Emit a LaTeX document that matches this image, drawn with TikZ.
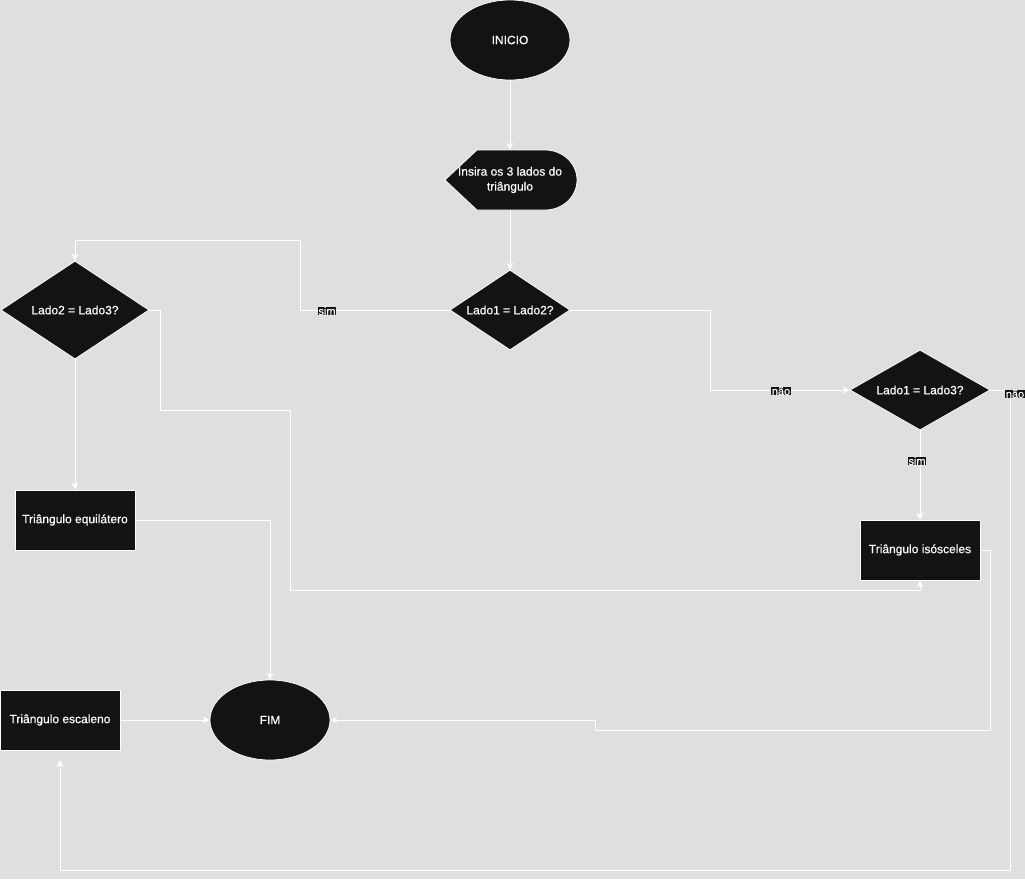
\documentclass[tikz,border=0pt]{standalone}
\usepackage{fontspec}
\setmainfont[FakeBold=0.4]{Liberation Sans}
\usetikzlibrary{shapes.geometric,arrows.meta,calc}
\definecolor{bg}{HTML}{DFDFDF}
\definecolor{ink}{HTML}{131313}
\begin{document}
\begin{tikzpicture}[x=1pt,y=-1pt,
  box/.style={draw=white, line width=0.75pt, fill=ink, text=white,
    font=\fontsize{12}{15}\selectfont, inner sep=0pt, align=center},
  term/.style={box, ellipse, minimum width=120pt, minimum height=80pt},
  proc/.style={box, rectangle, minimum width=120pt, minimum height=60pt},
  dec/.style={box, diamond, aspect=1.5},
  lbl/.style={fill=ink, text=white, font=\fontsize{11}{12}\selectfont, inner sep=0.4pt},
  flow/.style={draw=white, line width=0.9pt, -{Stealth[length=7pt,width=7pt,inset=2pt]}}
]
% canvas
\fill[bg] (0,0) rectangle (1025,879);
\useasboundingbox (0,0) rectangle (1025,879);

% terminals
\node[term] (ini) at (510,40) {INICIO};
\node[term] (fim) at (270,720) {FIM};

% input (display shape)
\path[fill=ink, draw=white, line width=0.75pt]
  (445,180) -- (477,150) -- (545,150)
  .. controls (562.7,150) and (577,163.4) .. (577,180)
  .. controls (577,196.6) and (562.7,210) .. (545,210)
  -- (477,210) -- cycle;
\node[text=white, font=\fontsize{12}{15}\selectfont, align=center,
  inner sep=0pt, minimum width=132pt, minimum height=60pt] (disp) at (510,180)
  {Insira os 3 lados do\\triângulo};

% decisions
\node[dec, minimum width=120pt, minimum height=80pt] (d1) at (510,310) {Lado1 = Lado2?};
\node[dec, minimum width=148pt, minimum height=98pt] (d2) at (75,310) {Lado2 = Lado3?};
\node[dec, minimum width=140pt, minimum height=80pt] (d3) at (920,390) {Lado1 = Lado3?};

% results
\node[proc] (equi) at (75,520) {Triângulo equilátero};
\node[proc] (iso) at (920,550) {Triângulo isósceles};
\node[proc] (esc) at (60,720) {Triângulo escaleno};
\coordinate (escin) at (60,760);

% connectors
\draw[flow] (ini.south) -- (disp.north);
\draw[flow] (disp.south) -- (d1.north);
\draw[flow] (d1.west) -- (300,310) -- (300,240) -| (d2.north);
\node[lbl] (l1) at (327,311) {sim};
\draw[flow] (d1.east) -- (710,310) -- (710,390) -- (d3.west);
\node[lbl] (l2) at (781,391) {não};
\draw[flow] (d3.south) -- (iso.north);
\node[lbl] (l3) at (917,461) {sim};
\draw[flow] (d3.east) -- (1010,390) -- (1010,870) -- (60,870) -- (escin);
\node[lbl] (l4) at (1015,394) {não};
\draw[flow] (d2.east) -- (160,310) -- (160,410) -- (290,410) -- (290,590) -| (iso.south);
\draw[flow] (d2.south) -- (equi.north);
\draw[flow] (equi.east) -| (fim.north);
\draw[flow] (esc.east) -- (fim.west);
\draw[flow] (iso.east) -- (990,550) -- (990,730) -- (595,730) -- (595,720) -- (fim.east);
\end{tikzpicture}
\end{document}
